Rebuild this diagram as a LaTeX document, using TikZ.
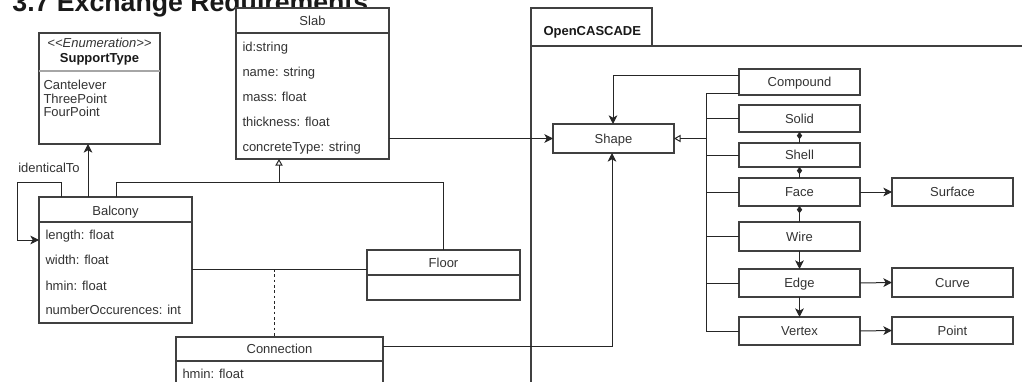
\documentclass[tikz,border=0pt]{standalone}
\usepackage{fontspec}
\setmainfont{Liberation Sans}
\usetikzlibrary{arrows.meta}
\newcommand{\fs}{\fontsize{9.75}{11}\selectfont}
\newcommand{\ubox}[7][]{\node[box,#1,minimum width={(#5-#3)*0.75pt},minimum height={(#6-#4)*0.75pt}] (#2) at ({(#3+#5)/2},{(#4+#6)/2}) {#7};}
\begin{document}
\begin{tikzpicture}[x=0.75pt,y=-0.75pt,line width=0.75pt,
  ln/.style={draw=black!85},
  frame/.style={draw=black!75,line width=0.8pt},
  box/.style={draw=black!75,fill=white,line width=0.8pt,inner sep=0pt,outer sep=0pt,rectangle,
    text height=7pt,text depth=0pt,text=black!80,font=\fs},
  txt/.style={inner sep=0pt,text height=7pt,text depth=0pt,text=black!80,font=\fs},
  att/.style={txt,anchor=west},
  arr/.style={draw=black!85,-{Stealth[length=6.5pt,width=6.5pt,inset=1.8pt]}},
  gen/.style={draw=black!85,-{Triangle[open,length=5pt,width=5.5pt]}},
  compo/.style={draw=black!85,-{Diamond[length=5.5pt,width=4pt]}},
]
\useasboundingbox (0,0) rectangle (1022,382);
\clip (0,0) rectangle (1022,382);
% title
\node[anchor=base west,inner sep=0pt,font=\bfseries\fontsize{20}{24}\selectfont,text=black!90] (title) at (12,12) {3.7 Exchange Requirements};
% OpenCASCADE frame
\draw[frame] (531,400) -- (531,8) -- (652,8) -- (652,46);
\draw[frame] (531,46) -- (1030,46);
\node[txt,anchor=west,font=\fs\bfseries,text=black!90] (ocl) at (543,31) {OpenCASCADE};
% SupportType
\ubox{sup}{39}{33}{160}{144}{}
\node[txt,font=\fs\itshape] (supst) at (99.5,43) {\textless\kern0pt\textless\kern0pt Enumeration\kern0pt\textgreater\kern0pt\textgreater};
\node[txt,font=\fs\bfseries,text=black!90] (supt) at (99.5,58) {SupportType};
\draw[draw=black!35,line width=0.8pt] (sup.west |- 0,71) -- (sup.east |- 0,71);
\node[att] (sup1) at (43,85) {Cantelever};
\node[att] (sup2) at (43,99) {ThreePoint};
\node[att] (sup3) at (43,112) {FourPoint};
% Slab
\ubox{slab}{236}{8}{389}{159}{}
\node[txt] (slabt) at (312.5,21) {Slab};
\draw[frame] (slab.west |- 0,33) -- (slab.east |- 0,33);
\node[att] (s1) at (242,47) {id:string};
\node[att] (s2) at (242,72) {name: string};
\node[att] (s3) at (242,97) {mass: float};
\node[att] (s4) at (242,122) {thickness: float};
\node[att] (s5) at (242,147) {concreteType: string};
% Balcony
\ubox{bal}{39}{197}{192}{323}{}
\node[txt] (balt) at (115.5,211) {Balcony};
\draw[frame] (bal.west |- 0,222) -- (bal.east |- 0,222);
\node[att] (b1) at (45,235) {length: float};
\node[att] (b2) at (45,260) {width: float};
\node[att] (b3) at (45,286) {hmin: float};
\node[att] (b4) at (45,310) {numberOccurences: int};
% Floor
\ubox{floor}{367}{250}{520}{300}{}
\node[txt] (floort) at (443.5,263) {Floor};
\draw[frame] (floor.west |- 0,275) -- (floor.east |- 0,275);
% Connection
\ubox{conn}{176}{337}{383}{410}{}
\node[txt] (connt) at (279.5,349) {Connection};
\draw[frame] (conn.west |- 0,361) -- (conn.east |- 0,361);
\node[att] (c1t) at (182,374) {hmin: float};
% OpenCASCADE classes
\ubox{shape}{553}{124}{674}{153}{Shape}
\ubox{comp}{739}{69}{860}{95}{Compound}
\ubox{solid}{739}{105}{860}{132}{Solid}
\ubox{shell}{739}{143}{860}{167}{Shell}
\ubox{face}{739}{178}{860}{206}{Face}
\ubox{wire}{739}{222}{860}{251}{Wire}
\ubox{edge}{739}{269}{860}{297}{Edge}
\ubox{vertex}{739}{317}{860}{345}{Vertex}
\ubox{surface}{892}{178}{1013}{206}{Surface}
\ubox{curve}{892}{268}{1013}{297}{Curve}
\ubox{point}{892}{317}{1013}{344}{Point}
% connectors, left part
\coordinate (cA) at (88,170);
\draw[arr] (bal.north -| cA) -- (sup.south -| cA);
\coordinate (l1) at (61,182);
\coordinate (l2) at (17,182);
\coordinate (l3) at (17,240);
\draw[arr] (bal.north -| l1) -- (l1) -- (l2) -- (l3) -- (bal.west |- l3);
\node[txt] (idl) at (49,168) {identicalTo};
\coordinate (g1) at (116,182);
\coordinate (g2) at (279,182);
\draw[ln] (bal.north -| g1) -- (g1) -- (g1 -| floor.north) -- (floor.north);
\draw[gen] (g2) -- (g2 |- slab.south);
\coordinate (a1) at (200,269);
\draw[ln] (bal.east |- a1) -- (floor.west |- a1);
\coordinate (d1) at (274,269);
\draw[ln,dash pattern=on 2pt off 2pt] (d1) -- (d1 |- conn.north);
\coordinate (c1) at (612,346);
\draw[arr] (conn.east |- c1) -- (c1) -- (c1 |- shape.south);
\draw[arr] (slab.east |- shape.west) -- (shape.west);
% connectors, OpenCASCADE
\coordinate (k1) at (613,75);
\draw[arr] (comp.west |- k1) -- (k1) -- (k1 |- shape.north);
\coordinate (b0) at (706,93);
\draw[ln] (comp.west |- b0) -- (b0) -- (b0 |- vertex.west) -- (vertex.west);
\foreach \n in {solid,shell,face,wire,edge} \draw[ln] (b0 |- \n.west) -- (\n.west);
\draw[gen] (b0 |- shape.east) -- (shape.east);
\draw[compo] (shell.north) -- (solid.south);
\draw[compo] (face.north) -- (shell.south);
\draw[compo] (wire.north) -- (face.south);
\draw[arr] (wire.south) -- (edge.north);
\draw[arr] (edge.south) -- (vertex.north);
\draw[arr] (face.east) -- (surface.west);
\draw[arr] (edge.east) -- (curve.west);
\draw[arr] (vertex.east) -- (point.west);
\end{tikzpicture}
\end{document}
